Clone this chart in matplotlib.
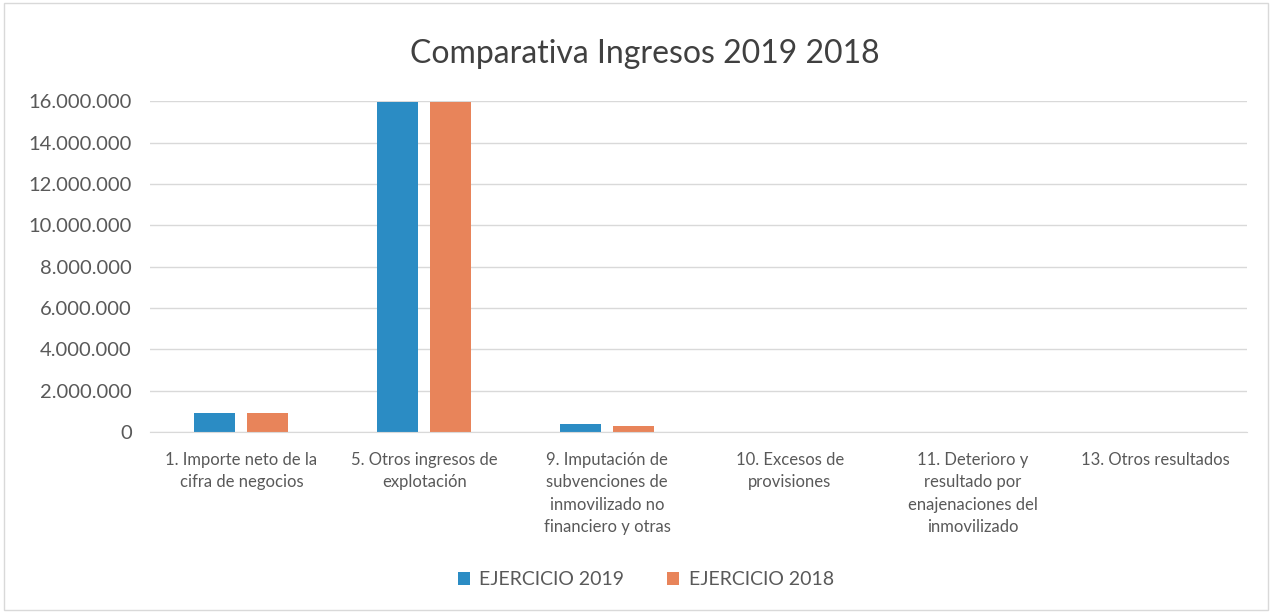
import numpy as np
import matplotlib.pyplot as plt
from matplotlib.ticker import FuncFormatter

plt.rcParams['font.family'] = ['Lato', 'DejaVu Sans']

categorias = ['1. Importe neto de la\ncifra de negocios',
              '5. Otros ingresos de\nexplotación',
              '9. Imputación de\nsubvenciones de\ninmovilizado no\nfinanciero y otras',
              '10. Excesos de\nprovisiones',
              '11. Deterioro y\nresultado por\nenajenaciones del\ninmovilizado',
              '13. Otros resultados']
ejercicio_2019 = [930000, 15950000, 400000, 0, 0, 0]
ejercicio_2018 = [920000, 15950000, 300000, 0, 0, 0]

azul = '#2b8cc4'
naranja = '#e8845a'

fig = plt.figure(figsize=(12.74, 6.13), dpi=100)
ax = fig.add_axes([0.1177, 0.295, 0.861, 0.54])

x = np.arange(len(categorias))
w = 0.224
off = 0.145
ax.bar(x - off, ejercicio_2019, w, color=azul, label='EJERCICIO 2019')
ax.bar(x + off, ejercicio_2018, w, color=naranja, label='EJERCICIO 2018')

ax.set_xlim(-0.5, len(categorias) - 0.5)
ax.set_ylim(0, 16000000)
ax.set_yticks(np.arange(0, 16000001, 2000000))
ax.yaxis.set_major_formatter(FuncFormatter(lambda v, p: f'{int(v):,}'.replace(',', '.')))
ax.grid(axis='y', color='#d9d9d9', linewidth=1)
ax.set_axisbelow(True)
for s in ['top', 'right', 'left']:
    ax.spines[s].set_visible(False)
ax.spines['bottom'].set_color('#d9d9d9')
ax.tick_params(axis='both', length=0, colors='#595959')
ax.tick_params(axis='y', labelsize=14.5, pad=13)
ax.set_xticks(x)
ax.set_xticklabels(categorias, fontsize=12, va='top', linespacing=1.5)
ax.tick_params(axis='x', pad=14)

fig.text(0.506, 0.912, 'Comparativa Ingresos 2019 2018', ha='center', va='center',
         fontsize=23, color='#404040')
fig.legend(loc='center', bbox_to_anchor=(0.507, 0.054), ncol=2, frameon=False,
           fontsize=14, handlelength=0.6, handleheight=0.6, handletextpad=0.5,
           columnspacing=2.2, labelcolor='#595959')

# borde del gráfico
fig.add_artist(plt.Rectangle((0.003, 0.005), 0.992, 0.99, transform=fig.transFigure,
                             fill=False, edgecolor='#d9d9d9', linewidth=1))

fig.savefig('out.png', dpi=100)
